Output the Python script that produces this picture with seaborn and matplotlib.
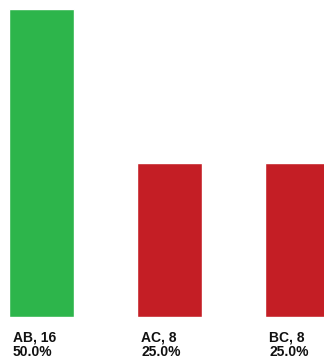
import matplotlib
matplotlib.use("Agg")
import matplotlib.pyplot as plt
import seaborn as sns
import pandas as pd

categories = ["AB", "AC", "BC"]
counts = [16, 8, 8]
percents = ["50.0%", "25.0%", "25.0%"]
colors = ["#2db54b", "#c41e25", "#c41e25"]

sns.set_style("white")
plt.rcParams["font.family"] = ["Liberation Sans", "DejaVu Sans"]

W, H = 324, 360
fig = plt.figure(figsize=(W / 100, H / 100), dpi=100)
base = 43.3
ax = fig.add_axes([0, base / H, 1, (H - base) / H])

df = pd.DataFrame({"cat": categories, "n": counts})
sns.barplot(data=df, x="cat", y="n", hue="cat", palette=colors, width=0.508,
            legend=False, ax=ax, saturation=1)

ax.set_xlim(-0.324, 2.207)
ax.set_ylim(0, 16 * (H - base) / (351 - base))
ax.axis("off")

for i, (c, n, p) in enumerate(zip(categories, counts, percents)):
    xpix = 41.5 + 128 * i - 28.5
    fig.text(xpix / W, 23 / H, f"{c}, {n}", fontsize=10, fontweight="bold",
             ha="left", va="center", color="#111111")
    fig.text(xpix / W, 8 / H, p, fontsize=10, fontweight="bold",
             ha="left", va="center", color="#111111")

fig.savefig("out.png", dpi=100)
